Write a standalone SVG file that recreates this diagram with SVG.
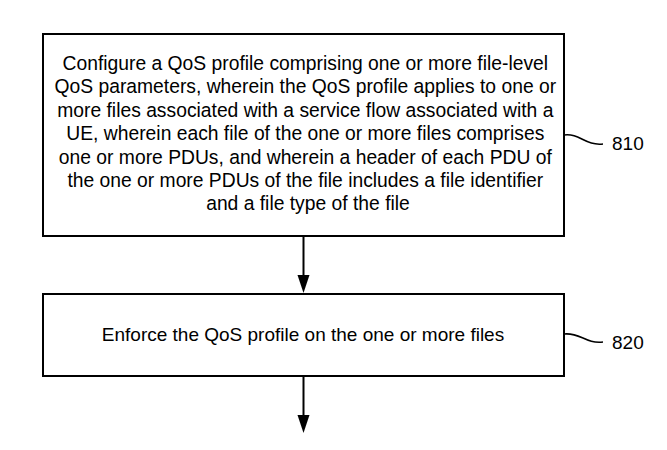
<svg xmlns="http://www.w3.org/2000/svg" width="667" height="450" viewBox="0 0 667 450">
<style>
.box{fill:#fff;stroke:#000;stroke-width:2}
.t{font-family:"Liberation Sans",Arial,sans-serif;font-size:19px;fill:#000}
.big{font-size:19.3px}
.c{text-anchor:middle}
.ln{fill:none;stroke:#000;stroke-width:2}
.sq{fill:none;stroke:#000;stroke-width:1.6}
</style>
<rect width="667" height="450" fill="#fff"/>
<g id="node810">
<rect class="box" x="43" y="34" width="521" height="202"/>
<text class="t big c" x="308">
<tspan x="308" y="70">Configure a QoS profile comprising one or more file-level</tspan>
<tspan x="308" y="93.4">QoS parameters, wherein the QoS profile applies to one or</tspan>
<tspan x="308" y="116.8">more files associated with a service flow associated with a</tspan>
<tspan x="308" y="140.2">UE, wherein each file of the one or more files comprises</tspan>
<tspan x="308" y="163.6">one or more PDUs, and wherein a header of each PDU of</tspan>
<tspan x="308" y="187">the one or more PDUs of the file includes a file identifier</tspan>
<tspan x="308" y="210.4">and a file type of the file</tspan>
</text>
<path class="sq" d="M564,135 C580,133 585,146 603,144"/>
<text class="t" x="612" y="150">810</text>
</g>
<g id="node820">
<rect class="box" x="43" y="294" width="521" height="82"/>
<text class="t c" x="303" y="341">Enforce the QoS profile on the one or more files</text>
<path class="sq" d="M564,334 C580,332 585,344 603,342"/>
<text class="t" x="612" y="349">820</text>
</g>
<g id="connectors">
<line class="ln" x1="303.5" y1="236" x2="303.5" y2="277"/>
<path d="M297.5,275 L309.5,275 L303.5,293 Z" fill="#000"/>
<line class="ln" x1="303.5" y1="376" x2="303.5" y2="417"/>
<path d="M297.5,415 L309.5,415 L303.5,433 Z" fill="#000"/>
</g>
</svg>
